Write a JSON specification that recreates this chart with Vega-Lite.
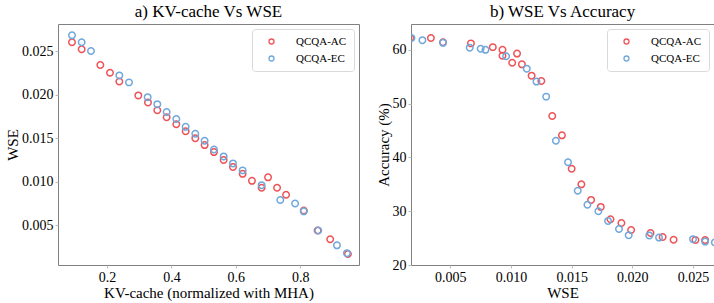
{
  "$schema": "https://vega.github.io/schema/vega-lite/v6.json",
  "padding": {"left": 5, "top": 2, "right": 0, "bottom": 0},
  "background": "white",
  "datasets": {
    "pts": [
      {"series": "QCQA-AC", "kv": 0.091, "wse": 0.0260, "acc": 24.65},
      {"series": "QCQA-AC", "kv": 0.121, "wse": 0.0252, "acc": 24.65},
      {"series": "QCQA-AC", "kv": 0.179, "wse": 0.0234, "acc": 24.7},
      {"series": "QCQA-AC", "kv": 0.209, "wse": 0.0225, "acc": 25.2},
      {"series": "QCQA-AC", "kv": 0.238, "wse": 0.0215, "acc": 25.95},
      {"series": "QCQA-AC", "kv": 0.297, "wse": 0.0199, "acc": 26.5},
      {"series": "QCQA-AC", "kv": 0.327, "wse": 0.0191, "acc": 27.8},
      {"series": "QCQA-AC", "kv": 0.356, "wse": 0.0182, "acc": 28.5},
      {"series": "QCQA-AC", "kv": 0.385, "wse": 0.0174, "acc": 30.8},
      {"series": "QCQA-AC", "kv": 0.415, "wse": 0.0166, "acc": 32.1},
      {"series": "QCQA-AC", "kv": 0.444, "wse": 0.0158, "acc": 35.0},
      {"series": "QCQA-AC", "kv": 0.474, "wse": 0.0150, "acc": 37.9},
      {"series": "QCQA-AC", "kv": 0.503, "wse": 0.0142, "acc": 44.1},
      {"series": "QCQA-AC", "kv": 0.532, "wse": 0.0134, "acc": 47.7},
      {"series": "QCQA-AC", "kv": 0.562, "wse": 0.0125, "acc": 54.2},
      {"series": "QCQA-AC", "kv": 0.591, "wse": 0.0117, "acc": 55.2},
      {"series": "QCQA-AC", "kv": 0.621, "wse": 0.0109, "acc": 57.3},
      {"series": "QCQA-AC", "kv": 0.650, "wse": 0.0101, "acc": 57.6},
      {"series": "QCQA-AC", "kv": 0.680, "wse": 0.0093, "acc": 58.9},
      {"series": "QCQA-AC", "kv": 0.700, "wse": 0.0105, "acc": 59.3},
      {"series": "QCQA-AC", "kv": 0.728, "wse": 0.0093, "acc": 60.0},
      {"series": "QCQA-AC", "kv": 0.756, "wse": 0.0085, "acc": 60.5},
      {"series": "QCQA-AC", "kv": 0.811, "wse": 0.0067, "acc": 61.2},
      {"series": "QCQA-AC", "kv": 0.854, "wse": 0.0044, "acc": 61.4},
      {"series": "QCQA-AC", "kv": 0.893, "wse": 0.0034, "acc": 62.2},
      {"series": "QCQA-AC", "kv": 0.948, "wse": 0.0017, "acc": 62.2},
      {"series": "QCQA-EC", "kv": 0.091, "wse": 0.0268, "acc": 24.2},
      {"series": "QCQA-EC", "kv": 0.121, "wse": 0.0260, "acc": 24.35},
      {"series": "QCQA-EC", "kv": 0.150, "wse": 0.0250, "acc": 24.8},
      {"series": "QCQA-EC", "kv": 0.238, "wse": 0.0222, "acc": 25.1},
      {"series": "QCQA-EC", "kv": 0.268, "wse": 0.0214, "acc": 25.5},
      {"series": "QCQA-EC", "kv": 0.326, "wse": 0.0197, "acc": 25.55},
      {"series": "QCQA-EC", "kv": 0.356, "wse": 0.0189, "acc": 26.7},
      {"series": "QCQA-EC", "kv": 0.385, "wse": 0.0180, "acc": 28.2},
      {"series": "QCQA-EC", "kv": 0.415, "wse": 0.0172, "acc": 30.0},
      {"series": "QCQA-EC", "kv": 0.444, "wse": 0.0163, "acc": 31.2},
      {"series": "QCQA-EC", "kv": 0.474, "wse": 0.0155, "acc": 33.8},
      {"series": "QCQA-EC", "kv": 0.503, "wse": 0.0147, "acc": 39.1},
      {"series": "QCQA-EC", "kv": 0.532, "wse": 0.0137, "acc": 43.1},
      {"series": "QCQA-EC", "kv": 0.562, "wse": 0.0129, "acc": 51.3},
      {"series": "QCQA-EC", "kv": 0.591, "wse": 0.0121, "acc": 54.1},
      {"series": "QCQA-EC", "kv": 0.621, "wse": 0.0113, "acc": 56.5},
      {"series": "QCQA-EC", "kv": 0.680, "wse": 0.0096, "acc": 58.8},
      {"series": "QCQA-EC", "kv": 0.738, "wse": 0.0079, "acc": 60.0},
      {"series": "QCQA-EC", "kv": 0.784, "wse": 0.0075, "acc": 60.2},
      {"series": "QCQA-EC", "kv": 0.811, "wse": 0.0066, "acc": 60.4},
      {"series": "QCQA-EC", "kv": 0.856, "wse": 0.0044, "acc": 61.3},
      {"series": "QCQA-EC", "kv": 0.914, "wse": 0.0027, "acc": 61.8},
      {"series": "QCQA-EC", "kv": 0.945, "wse": 0.0018, "acc": 62.2}
    ]
  },
  "data": {"name": "pts"},
  "spacing": 15,
  "resolve": {"legend": {"color": "independent"}},
  "hconcat": [
    {
      "width": 301,
      "height": 241,
      "title": {"text": "a) KV-cache Vs WSE"},
      "mark": {"type": "point", "filled": false, "strokeWidth": 1.5, "size": 42, "clip": true, "opacity": 1},
      "encoding": {
        "x": {"field": "kv", "type": "quantitative", "scale": {"domain": [0.0475, 0.9825], "nice": false, "zero": false},
              "axis": {"values": [0.2, 0.4, 0.6, 0.8], "format": ".1f", "title": "KV-cache (normalized with MHA)", "labelFont": "Liberation Serif", "titleFont": "Liberation Serif"}},
        "y": {"field": "wse", "type": "quantitative", "scale": {"domain": [0.00044, 0.0281], "nice": false, "zero": false},
              "axis": {"values": [0.005, 0.01, 0.015, 0.02, 0.025], "format": ".3f", "title": "WSE", "labelFont": "Liberation Serif", "titleFont": "Liberation Serif"}},
        "color": {"field": "series", "type": "nominal",
                  "scale": {"domain": ["QCQA-AC", "QCQA-EC"], "range": ["#ef5357", "#6fa8dc"]},
                  "legend": {"title": null}}
      }
    },
    {
      "width": 303,
      "height": 241,
      "title": {"text": "b) WSE Vs Accuracy"},
      "mark": {"type": "point", "filled": false, "strokeWidth": 1.5, "size": 42, "clip": true, "opacity": 1},
      "encoding": {
        "x": {"field": "wse", "type": "quantitative", "scale": {"domain": [0.00176, 0.02673], "nice": false, "zero": false},
              "axis": {"values": [0.005, 0.01, 0.015, 0.02, 0.025], "format": ".3f", "title": "WSE", "labelFont": "Liberation Serif", "titleFont": "Liberation Serif"}},
        "y": {"field": "acc", "type": "quantitative", "scale": {"domain": [20, 64.8], "nice": false, "zero": false},
              "axis": {"values": [20, 30, 40, 50, 60], "format": "d", "title": "Accuracy (%)", "labelFont": "Liberation Serif", "titleFont": "Liberation Serif"}},
        "color": {"field": "series", "type": "nominal",
                  "scale": {"domain": ["QCQA-AC", "QCQA-EC"], "range": ["#ef5357", "#6fa8dc"]},
                  "legend": {"title": null}}
      }
    }
  ],
  "config": {
    "font": "Liberation Serif",
    "style": {
      "guide-label": {"font": "Liberation Serif"},
      "guide-title": {"font": "Liberation Serif"},
      "group-title": {"font": "Liberation Serif"}
    },
    "view": {"stroke": "#808080", "strokeWidth": 1},
    "title": {"font": "Liberation Serif", "fontSize": 17, "fontWeight": "normal", "color": "black", "offset": 3},
    "axis": {
      "grid": false,
      "domain": false,
      "ticks": true,
      "tickSize": 3,
      "tickColor": "#bbbbbb",
      "labelFont": "Liberation Serif",
      "labelFontSize": 14,
      "labelColor": "black",
      "labelPadding": 2,
      "titleFont": "Liberation Serif",
      "titleFontSize": 15,
      "titleFontWeight": "normal",
      "titleColor": "black",
      "titlePadding": 1
    },
    "legend": {
      "orient": "top-right",
      "offset": 5,
      "padding": 7,
      "strokeColor": "#d9d9d9",
      "fillColor": "white",
      "cornerRadius": 3,
      "labelFont": "Liberation Serif",
      "labelFontSize": 11,
      "labelColor": "black",
      "labelOffset": 19,
      "symbolSize": 25,
      "symbolStrokeWidth": 1.3,
      "symbolOffset": 7,
      "rowPadding": 5
    }
  }
}
